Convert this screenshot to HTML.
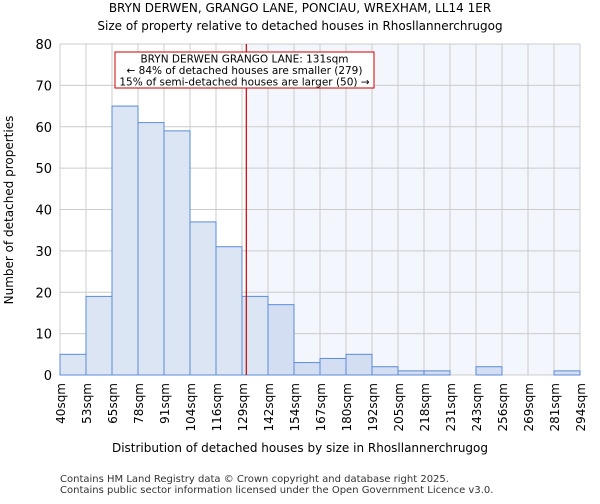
<!DOCTYPE html>
<html><head><meta charset="utf-8"><style>
body{margin:0;background:#fff;font-family:"DejaVu Sans","Liberation Sans",sans-serif;}
</style></head><body>
<svg width="600" height="500" xmlns="http://www.w3.org/2000/svg" font-family="DejaVu Sans, Liberation Sans, sans-serif">
<text x="300" y="12" text-anchor="middle" font-size="12">BRYN DERWEN, GRANGO LANE, PONCIAU, WREXHAM, LL14 1ER</text>
<text x="300" y="30" text-anchor="middle" font-size="12">Size of property relative to detached houses in Rhosllannerchrugog</text>
<g id="plot"></g>
<text x="300" y="452" text-anchor="middle" font-size="12">Distribution of detached houses by size in Rhosllannerchrugog</text>
<text x="13" y="210" text-anchor="middle" font-size="12" transform="rotate(-90 13 210)">Number of detached properties</text>
<text x="60" y="482" font-size="10" fill="#333">Contains HM Land Registry data © Crown copyright and database right 2025.</text>
<text x="60" y="493" font-size="10" fill="#333">Contains public sector information licensed under the Open Government Licence v3.0.</text>
</svg>
<script>
const labels=["40sqm","53sqm","65sqm","78sqm","91sqm","104sqm","116sqm","129sqm","142sqm","154sqm","167sqm","180sqm","192sqm","205sqm","218sqm","231sqm","243sqm","256sqm","269sqm","281sqm","294sqm"];
const counts=[5,19,65,61,59,37,31,19,17,3,4,5,2,1,1,0,2,0,0,1];
const yTicks=[0,10,20,30,40,50,60,70,80];
const binStart=40, binEnd=294, propSize=131;
const NS="http://www.w3.org/2000/svg";
const g=document.getElementById('plot');
const X0=60,X1=580,Y0=375,Y1=44;
const xs=v=>X0+(v-binStart)/(binEnd-binStart)*(X1-X0);
const ys=v=>Y0-v/80*(Y0-Y1);
const bw=(X1-X0)/counts.length;
function mk(t,a){const e=document.createElementNS(NS,t);for(const k in a)e.setAttribute(k,a[k]);g.appendChild(e);return e;}
const px=xs(propSize);
const sh=mk('rect',{x:px,y:Y1,width:X1-px,height:Y0-Y1,fill:'#f3f6fd'});


yTicks.forEach(v=>{const l=mk('line',{x1:X0,x2:X1,y1:ys(v),y2:ys(v),stroke:'#ccc'});


const t=mk('text',{x:X0-8,y:ys(v)+5,'text-anchor':'end','font-size':'13'});t.textContent=v;

});
labels.forEach((s,i)=>{const x=X0+i*bw;const l=mk('line',{x1:x,x2:x,y1:Y1,y2:Y0,stroke:'#ccc'});


const t=mk('text',{x:x+5,y:Y0+8,'text-anchor':'end','font-size':'12',transform:`rotate(-90 ${x+5} ${Y0+8})`});t.textContent=s;

});
counts.forEach((c,i)=>{if(!c)return;const x=X0+i*bw;const r=mk('rect',{x:x,y:ys(c),width:bw,height:Y0-ys(c),fill:x>=px?'#d4def2':'#dce5f4',stroke:'#5b8bd6','stroke-width':1});

});
const rl=mk('line',{x1:px,x2:px,y1:Y1,y2:Y0,stroke:'#cc0000','stroke-width':1.2});


const bx=mk('rect',{x:115,y:52,width:259,height:36,fill:'#fff',stroke:'#cc0000'});


["BRYN DERWEN GRANGO LANE: 131sqm","← 84% of detached houses are smaller (279)","15% of semi-detached houses are larger (50) →"].forEach((s,i)=>{const t=mk('text',{x:244.5,y:62.5+i*11.5,'text-anchor':'middle','font-size':'10.5'});t.textContent=s;

});
</script>
</body></html>
